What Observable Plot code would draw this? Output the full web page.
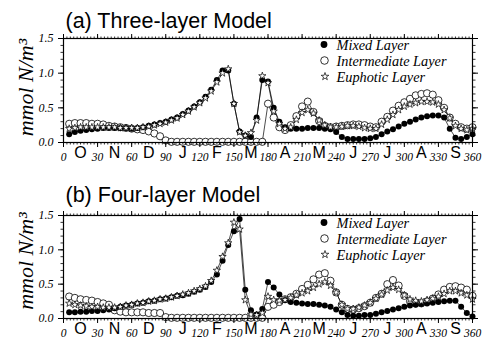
<!DOCTYPE html>
<html><head><meta charset="utf-8">
<script src="https://cdn.jsdelivr.net/npm/d3@7"></script>
<script src="https://cdn.jsdelivr.net/npm/@observablehq/plot@0.6"></script>
<style>
body{margin:0;background:#fff;}
#chart{width:486px;height:340px;overflow:hidden;}
#chart svg{display:block;}
</style>
</head><body><div id="chart"></div>
<script>
// sample days (x values)
const days = [5,10,15,20,25,30,35,40,45,50,55,60,65,70,75,80,85,90,95,100,
  105,110,115,120,125,130,135,140,145,150,155,160,165,170,175,180,185,190,195,200,
  205,210,215,220,225,230,235,240,245,250,255,260,265,270,275,280,285,290,295,300,
  305,310,315,320,325,330,335,340,345,350,355,360];
const dayTicks = [0,30,60,90,120,150,180,210,240,270,300,330,360];
const monthTicks = [15,45,75,105,135,165,195,225,255,285,315,345];
const monthLabels = ["O","N","D","J","F","M","A","M","J","J","A","S"];
const yTicks = [0,0.5,1.0,1.5];
const seriesNames = ["Mixed Layer","Intermediate Layer","Euphotic Layer"];
const titles = ["(a) Three-layer Model","(b) Four-layer Model"];
const yLabel = "mmol N/m\u00B3";

// (a) Three-layer model
const aMixed = [0.12,0.15,0.17,0.18,0.19,0.20,0.21,0.21,0.21,0.21,
  0.21,0.20,0.21,0.22,0.24,0.26,0.28,0.30,0.33,0.36,
  0.41,0.46,0.52,0.58,0.66,0.76,0.90,1.04,1.04,0.56,
  0.16,0.10,0.08,0.36,0.90,0.88,0.50,0.30,0.22,0.20,
  0.20,0.20,0.21,0.21,0.21,0.20,0.19,0.15,0.08,0.05,
  0.05,0.05,0.05,0.06,0.08,0.12,0.16,0.19,0.23,0.27,
  0.30,0.33,0.36,0.38,0.39,0.39,0.36,0.20,0.07,0.05,
  0.08,0.12];
const aInter = [0.27,0.28,0.28,0.28,0.27,0.27,0.26,0.24,0.23,0.22,
  0.21,0.20,0.19,0.18,0.16,0.13,0.09,0.03,0.01,0.01,
  0.01,0.01,0.01,0.01,0.01,0.01,0.01,0.01,0.01,0.01,
  0.01,0.01,0.01,0.01,0.01,0.56,0.36,0.22,0.18,0.25,
  0.38,0.52,0.59,0.44,0.31,0.24,0.22,0.23,0.24,0.25,
  0.26,0.26,0.25,0.23,0.22,0.30,0.37,0.46,0.53,0.58,
  0.63,0.68,0.70,0.71,0.69,0.61,0.50,0.36,0.27,0.22,
  0.20,0.22];
const aEuph = [0.20,0.21,0.22,0.22,0.22,0.22,0.22,0.22,0.22,0.21,
  0.21,0.21,0.21,0.22,0.23,0.25,0.27,0.29,0.32,0.35,
  0.40,0.45,0.51,0.57,0.64,0.74,0.87,1.00,1.06,0.56,
  0.15,0.10,0.14,0.32,0.96,0.86,0.45,0.27,0.20,0.22,
  0.33,0.43,0.47,0.42,0.32,0.25,0.22,0.22,0.23,0.24,
  0.24,0.23,0.21,0.20,0.20,0.26,0.33,0.40,0.47,0.52,
  0.55,0.57,0.59,0.59,0.58,0.55,0.47,0.35,0.24,0.20,
  0.18,0.20];

// (b) Four-layer model
const bMixed = [0.09,0.09,0.10,0.10,0.11,0.11,0.12,0.13,0.15,0.17,
  0.19,0.20,0.22,0.23,0.25,0.26,0.28,0.29,0.31,0.33,
  0.34,0.36,0.39,0.42,0.46,0.53,0.64,0.84,1.07,1.27,
  1.45,0.42,0.12,0.06,0.14,0.53,0.45,0.35,0.27,0.24,
  0.23,0.22,0.21,0.21,0.20,0.19,0.17,0.13,0.09,0.05,
  0.04,0.04,0.05,0.05,0.07,0.09,0.11,0.13,0.15,0.17,
  0.19,0.20,0.21,0.22,0.23,0.24,0.25,0.26,0.26,0.17,
  0.08,0.03];
const bInter = [0.32,0.30,0.28,0.27,0.26,0.24,0.22,0.20,0.12,0.10,
  0.09,0.09,0.09,0.09,0.08,0.08,0.08,0.02,0.01,0.01,
  0.01,0.01,0.01,0.01,0.01,0.01,0.01,0.01,0.01,0.01,
  0.01,0.01,0.01,0.01,0.01,0.17,0.20,0.24,0.28,0.31,
  0.36,0.43,0.49,0.57,0.64,0.66,0.55,0.38,0.20,0.14,
  0.13,0.15,0.18,0.23,0.30,0.36,0.50,0.56,0.48,0.33,
  0.25,0.22,0.22,0.25,0.29,0.35,0.42,0.46,0.47,0.45,
  0.42,0.33];
const bEuph = [0.22,0.20,0.19,0.18,0.17,0.17,0.16,0.16,0.16,0.17,
  0.19,0.20,0.22,0.23,0.25,0.26,0.28,0.29,0.31,0.33,
  0.35,0.37,0.40,0.43,0.47,0.55,0.70,0.90,1.10,1.40,
  1.30,0.27,0.06,0.05,0.08,0.32,0.27,0.26,0.27,0.30,
  0.34,0.37,0.40,0.45,0.50,0.53,0.48,0.38,0.20,0.14,
  0.14,0.16,0.19,0.23,0.29,0.35,0.41,0.45,0.42,0.34,
  0.28,0.26,0.25,0.27,0.29,0.32,0.36,0.40,0.40,0.37,
  0.34,0.28];

const serif = "'Liberation Serif','Times New Roman',Times,serif";
const sans = "'Liberation Sans',Arial,Helvetica,sans-serif";
const monthMap = new Map(monthTicks.map((t, i) => [t, monthLabels[i]]));
const minorX = d3.range(0, 361, 3);
const minorY = d3.range(0, 16, 1).map(d => d / 10);

function panel(cfg) {
  const rows = vals => days.map((d, i) => ({day: d, v: vals[i]}));
  const M = rows(cfg.mixed), I = rows(cfg.inter), E = rows(cfg.euph);
  const lg = cfg.legend;
  const legendText = (name, dy) => Plot.text([name], {frameAnchor: "top-right", dx: -136, dy, textAnchor: "start",
    lineAnchor: "bottom", fontSize: 14.3, fontStyle: "italic", fontFamily: serif, fill: "black"});
  return Plot.plot({
    width: 486, height: 170,
    marginLeft: 63, marginRight: 14, marginTop: cfg.marginTop, marginBottom: cfg.marginBottom,
    style: {background: "#fff", color: "black", overflow: "visible"},
    x: {domain: [0, 360], label: null},
    y: {domain: [0, 1.5], label: null},
    marks: [
      Plot.line(I, {x: "day", y: "v", stroke: "black", strokeWidth: 0.7}),
      Plot.line(M, {x: "day", y: "v", stroke: "black", strokeWidth: 0.7}),
      Plot.line(E, {x: "day", y: "v", stroke: "black", strokeWidth: 0.7}),
      Plot.dot(I, {x: "day", y: "v", r: 3.6, fill: "white", stroke: "black", strokeWidth: 0.8}),
      Plot.dot(M, {x: "day", y: "v", r: 3, fill: "black"}),
      Plot.dot(E, {x: "day", y: "v", symbol: "star", r: 2.3, fill: "white", stroke: "black", strokeWidth: 0.7}),
      Plot.frame({stroke: "black", strokeWidth: 1.2}),
      // tick lines
      Plot.axisX({anchor: "bottom", ticks: minorX, tickSize: 2.5, fill: "none", strokeWidth: 0.8, label: null}),
      Plot.axisX({anchor: "bottom", ticks: dayTicks, tickSize: 5, fill: "none", strokeWidth: 1, label: null}),
      Plot.axisX({anchor: "top", ticks: minorX, tickSize: 2.5, fill: "none", strokeWidth: 0.8, label: null}),
      Plot.axisX({anchor: "top", ticks: dayTicks, tickSize: 5, fill: "none", strokeWidth: 1, label: null}),
      Plot.axisY({anchor: "left", ticks: minorY, tickSize: 2.5, fill: "none", strokeWidth: 0.8, label: null}),
      Plot.axisY({anchor: "left", ticks: yTicks, tickSize: 5, fill: "none", strokeWidth: 1, label: null}),
      Plot.axisY({anchor: "right", ticks: minorY, tickSize: 2.5, fill: "none", strokeWidth: 0.8, label: null}),
      Plot.axisY({anchor: "right", ticks: yTicks, tickSize: 5, fill: "none", strokeWidth: 1, label: null}),
      // tick labels
      Plot.axisX({anchor: "bottom", ticks: dayTicks, tickSize: 0, tickPadding: 10.5, fontSize: 11.5,
        fontStyle: "italic", fontFamily: serif, tickFormat: d => String(d), label: null}),
      Plot.axisX({anchor: "bottom", ticks: monthTicks, tickSize: 0, tickPadding: 4.5, fontSize: 16,
        fontFamily: sans, tickFormat: d => monthMap.get(d), label: null}),
      Plot.axisY({anchor: "left", ticks: yTicks, tickSize: 0, tickPadding: 10, fontSize: 12,
        fontStyle: "italic", fontFamily: serif, tickFormat: d3.format(".1f"), label: null}),
      // title
      Plot.text([cfg.title], {frameAnchor: "top-left", dx: 2, dy: cfg.titleDy, textAnchor: "start",
        lineAnchor: "bottom", fontSize: 21.5, fontFamily: sans, fill: "black"}),
      // y label
      Plot.text([yLabel], {frameAnchor: "left", rotate: -90, dx: -31, dy: cfg.yLabelDy, textAnchor: "middle",
        lineAnchor: "bottom", fontSize: 22, fontStyle: "italic", fontFamily: serif, fill: "black"}),
      // legend
      Plot.dot([0], {frameAnchor: "top-right", dx: -148.5, dy: lg[0], r: 3.4, fill: "black"}),
      Plot.dot([0], {frameAnchor: "top-right", dx: -148, dy: lg[1], r: 3.8, fill: "white", stroke: "black", strokeWidth: 0.8}),
      Plot.dot([0], {frameAnchor: "top-right", dx: -147.5, dy: lg[2], symbol: "star", r: 2.4, fill: "white", stroke: "black", strokeWidth: 0.7}),
      legendText(seriesNames[0], lg[3]),
      legendText(seriesNames[1], lg[4]),
      legendText(seriesNames[2], lg[5])
    ]
  });
}

const chart = document.getElementById("chart");
chart.appendChild(panel({title: titles[0], mixed: aMixed, inter: aInter, euph: aEuph,
  marginTop: 38, marginBottom: 28, titleDy: -10.5, yLabelDy: -3,
  legend: [6, 22, 38, 11, 27, 43]}));
chart.appendChild(panel({title: titles[1], mixed: bMixed, inter: bInter, euph: bEuph,
  marginTop: 45, marginBottom: 22, titleDy: -13.3, yLabelDy: -6,
  legend: [7, 23, 39, 12, 28, 44]}));
</script>
</body></html>
